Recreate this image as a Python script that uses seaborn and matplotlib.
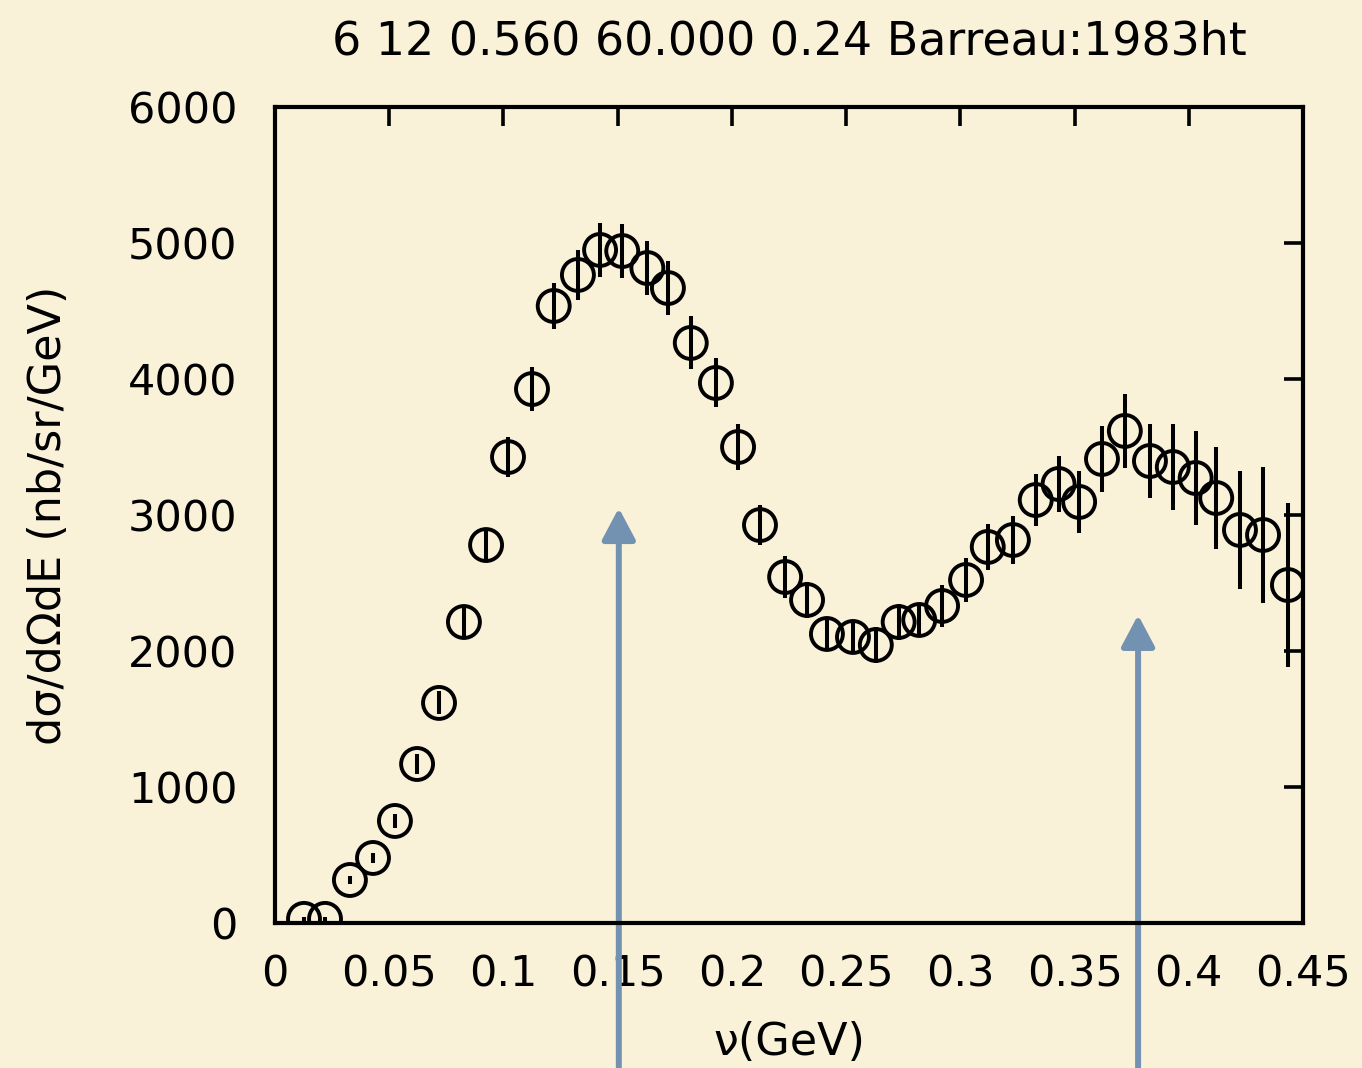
import matplotlib
matplotlib.use("Agg")
import matplotlib.pyplot as plt
import seaborn as sns
import numpy as np
import pandas as pd

nu = [0.0127, 0.0219, 0.0328, 0.0429, 0.0525, 0.0622, 0.0718, 0.0827, 0.0924, 0.1020,
      0.1125, 0.1220, 0.1326, 0.1423, 0.1520, 0.1630, 0.1720, 0.1820, 0.1930, 0.2027,
      0.2123, 0.2233, 0.2329, 0.2416, 0.2530, 0.2630, 0.2730, 0.2820, 0.2920, 0.3025,
      0.3120, 0.3230, 0.3330, 0.3430, 0.3520, 0.3620, 0.3720, 0.3830, 0.3930, 0.4030,
      0.4120, 0.4224, 0.4325, 0.4434]
sigma = [30, 30, 316, 478, 750, 1169, 1618, 2213, 2779, 3426,
         3926, 4537, 4765, 4949, 4941, 4816, 4669, 4265, 3971, 3500,
         2926, 2544, 2375, 2125, 2103, 2044, 2213, 2228, 2331, 2522,
         2765, 2816, 3110, 3228, 3096, 3412, 3618, 3397, 3353, 3272,
         3125, 2890, 2853, 2485]
err = [15, 15, 33, 35, 50, 74, 85, 115, 115, 150,
       160, 170, 185, 200, 200, 200, 200, 195, 180, 170,
       145, 155, 130, 118, 128, 135, 135, 122, 153, 160,
       168, 180, 190, 208, 227, 245, 270, 275, 318, 343,
       377, 437, 502, 600]
arrow_x = [0.1505, 0.3778]
arrow_tip = [3051, 2265]

title = "6 12 0.560 60.000 0.24 Barreau:1983ht"
xticks = [0, 0.05, 0.1, 0.15, 0.2, 0.25, 0.3, 0.35, 0.4, 0.45]
xticklabels = ["0", "0.05", "0.1", "0.15", "0.2", "0.25", "0.3", "0.35", "0.4", "0.45"]
yticks = [0, 1000, 2000, 3000, 4000, 5000, 6000]

bg = "#f9f1d8"
sns.set_theme(style="white")
plt.rcParams['font.family'] = ['DejaVu Sans']
plt.rcParams['text.color'] = 'black'
plt.rcParams['axes.labelcolor'] = 'black'

fig = plt.figure(figsize=(13.62, 10.68), dpi=100, facecolor=bg)
ax = fig.add_axes([0.2019, 0.1358, 0.7548, 0.764])
ax.set_facecolor(bg)

df = pd.DataFrame({"nu": nu, "sigma": sigma, "err": err})
ax.errorbar(df["nu"], df["sigma"], yerr=df["err"], fmt="none", ecolor="black",
            elinewidth=2.9, capsize=0, zorder=3)
sns.scatterplot(data=df, x="nu", y="sigma", ax=ax, marker="o", s=23**2,
                facecolor="none", edgecolor="black", linewidth=2.8, zorder=4,
                legend=False)

ax.set_xlim(0, 0.45)
ax.set_ylim(0, 6000)
ax.set_xticks(xticks)
ax.set_xticklabels(xticklabels)
ax.set_yticks(yticks)
ax.tick_params(direction="in", length=14, width=2.6, top=True, right=True,
               labelsize=31, colors="black")
ax.tick_params(axis="x", pad=22)
ax.tick_params(axis="y", pad=27)
for s in ax.spines.values():
    s.set_linewidth(3)
    s.set_color("black")
    s.set_visible(True)

ax.set_xlabel("ν(GeV)", fontsize=32, labelpad=18)
ax.set_ylabel("dσ/dΩdE (nb/sr/GeV)", fontsize=32, labelpad=42)
ax.set_title(title, fontsize=33, pad=38)

for xa, tip in zip(arrow_x, arrow_tip):
    ax.annotate("", xy=(xa, tip), xycoords="data",
                xytext=(xa, -1070), textcoords="data",
                arrowprops=dict(arrowstyle="-|>,head_length=1.6,head_width=0.85",
                                color="#7391b1", lw=4.3, shrinkA=0, shrinkB=0),
                annotation_clip=False, zorder=2)

fig.savefig("out.png", dpi=100, facecolor=bg)
